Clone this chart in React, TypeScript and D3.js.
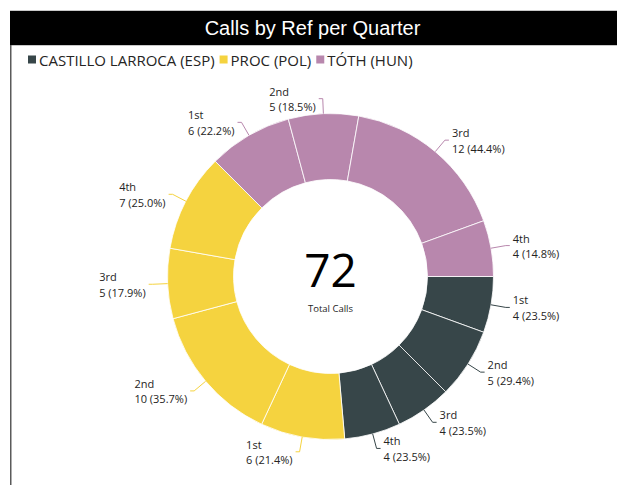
import React, { useEffect, useRef } from "react";
import * as d3 from "d3";

// referees and their colours (legend order = slice order)
const refs = ["CASTILLO LARROCA (ESP)", "PROC (POL)", "TÓTH (HUN)"];
const refColors = ["#374649", "#F5D33F", "#B887AD"];
const quarters = ["1st", "2nd", "3rd", "4th"];

// calls per quarter for each referee
const castilloCalls = [4, 5, 4, 4];
const procCalls = [6, 10, 5, 7];
const tothCalls = [6, 5, 12, 4];

const W = 617;
const H = 485;
const FONT = "'Open Sans', sans-serif";

const App = () => {
  const ref = useRef<SVGSVGElement>(null);

  useEffect(() => {
    const svg = d3.select(ref.current);
    svg.selectAll("*").remove();

    const series = [castilloCalls, procCalls, tothCalls];
    const rows = series.flatMap((vals, i) => {
      const total = d3.sum(vals);
      return vals.map((v, q) => ({
        ref: refs[i],
        color: refColors[i],
        quarter: quarters[q],
        value: v,
        pct: (v / total) * 100,
      }));
    });
    const grand = d3.sum(rows, (d) => d.value);

    // frame + title bar
    svg.append("rect").attr("x", 10).attr("y", 11).attr("width", W - 10).attr("height", 34).attr("fill", "#000");
    svg.append("line").attr("x1", 10).attr("x2", W).attr("y1", 10.5).attr("y2", 10.5).attr("stroke", "#c8c8c8");
    svg.append("line").attr("x1", 10).attr("x2", W).attr("y1", 45.5).attr("y2", 45.5).attr("stroke", "#c8c8c8");
    svg.append("line").attr("x1", 10.75).attr("x2", 10.75).attr("y1", 45).attr("y2", H).attr("stroke", "#5a5a5a").attr("stroke-width", 1.5);

    svg
      .append("text")
      .attr("x", (10 + W) / 2 - 1)
      .attr("y", 35)
      .attr("text-anchor", "middle")
      .attr("fill", "#fff")
      .style("font-family", "'Liberation Sans', Arial, sans-serif")
      .style("font-size", "20px")
      .text("Calls by Ref per Quarter");

    // legend, laid out left to right
    let lx = 28;
    refs.forEach((name, i) => {
      svg.append("rect").attr("x", lx).attr("y", 55.5).attr("width", 8).attr("height", 8).attr("fill", refColors[i]);
      const t = svg
        .append("text")
        .attr("x", lx + 11)
        .attr("y", 65.5)
        .attr("fill", "#252423")
        .style("font-family", FONT)
        .style("font-size", "15px")
        .text(name);
      const w = (t.node() as SVGTextElement).getComputedTextLength();
      lx += 11 + w + 5;
    });

    // donut
    const cx = 330.5;
    const cy = 276.5;
    const rOuter = 163;
    const rInner = 97;

    const pie = d3
      .pie<(typeof rows)[number]>()
      .sort(null)
      .value((d) => d.value)
      .startAngle(Math.PI / 2)
      .endAngle(Math.PI / 2 + 2 * Math.PI);
    const arcs = pie(rows);
    const arc = d3.arc<any>().innerRadius(rInner).outerRadius(rOuter);

    const g = svg.append("g").attr("transform", `translate(${cx},${cy})`);
    g.selectAll("path.slice")
      .data(arcs)
      .join("path")
      .attr("class", "slice")
      .attr("d", arc)
      .attr("fill", (d) => d.data.color)
      .attr("stroke", "#fff")
      .attr("stroke-opacity", 0.8)
      .attr("stroke-width", 1);

    // leader lines + labels
    arcs.forEach((d) => {
      const a = (d.startAngle + d.endAngle) / 2;
      const sx = Math.sin(a);
      const sy = -Math.cos(a);
      const left = sx < 0;
      const p1 = [sx * rOuter, sy * rOuter];
      const p2 = [sx * (rOuter + 15), sy * (rOuter + 15)];
      const p3 = [p2[0] + (left ? -4 : 4), p2[1]];
      g.append("polyline")
        .attr("points", [p1, p2, p3].map((p) => p.join(",")).join(" "))
        .attr("fill", "none")
        .attr("stroke", d.data.color)
        .attr("stroke-width", 1);

      const lab = g.append("g");
      const t1 = lab
        .append("text")
        .attr("y", p2[1] - 3)
        .text(d.data.quarter);
      const t2 = lab
        .append("text")
        .attr("y", p2[1] + 12.5)
        .text(`${d.data.value} (${d.data.pct.toFixed(1)}%)`);
      lab.selectAll("text").attr("fill", "#252423").style("font-family", FONT).style("font-size", "11px");
      const w = Math.max(
        (t1.node() as SVGTextElement).getComputedTextLength(),
        (t2.node() as SVGTextElement).getComputedTextLength()
      );
      const x = left ? p3[0] - 3 - w : p3[0] + 3;
      lab.selectAll("text").attr("x", x);
    });

    // centre total
    g.append("text")
      .attr("y", 10.5)
      .attr("text-anchor", "middle")
      .attr("fill", "#000")
      .style("font-family", FONT)
      .style("font-size", "46px")
      .text(grand);
    g.append("text")
      .attr("y", 35.5)
      .attr("text-anchor", "middle")
      .attr("fill", "#252423")
      .style("font-family", FONT)
      .style("font-size", "9.5px")
      .text("Total Calls");
  }, []);

  return (
    <svg
      ref={ref}
      width={W}
      height={H}
      style={{ position: "absolute", left: 0, top: 0, background: "#fff" }}
    />
  );
};

export default App;
